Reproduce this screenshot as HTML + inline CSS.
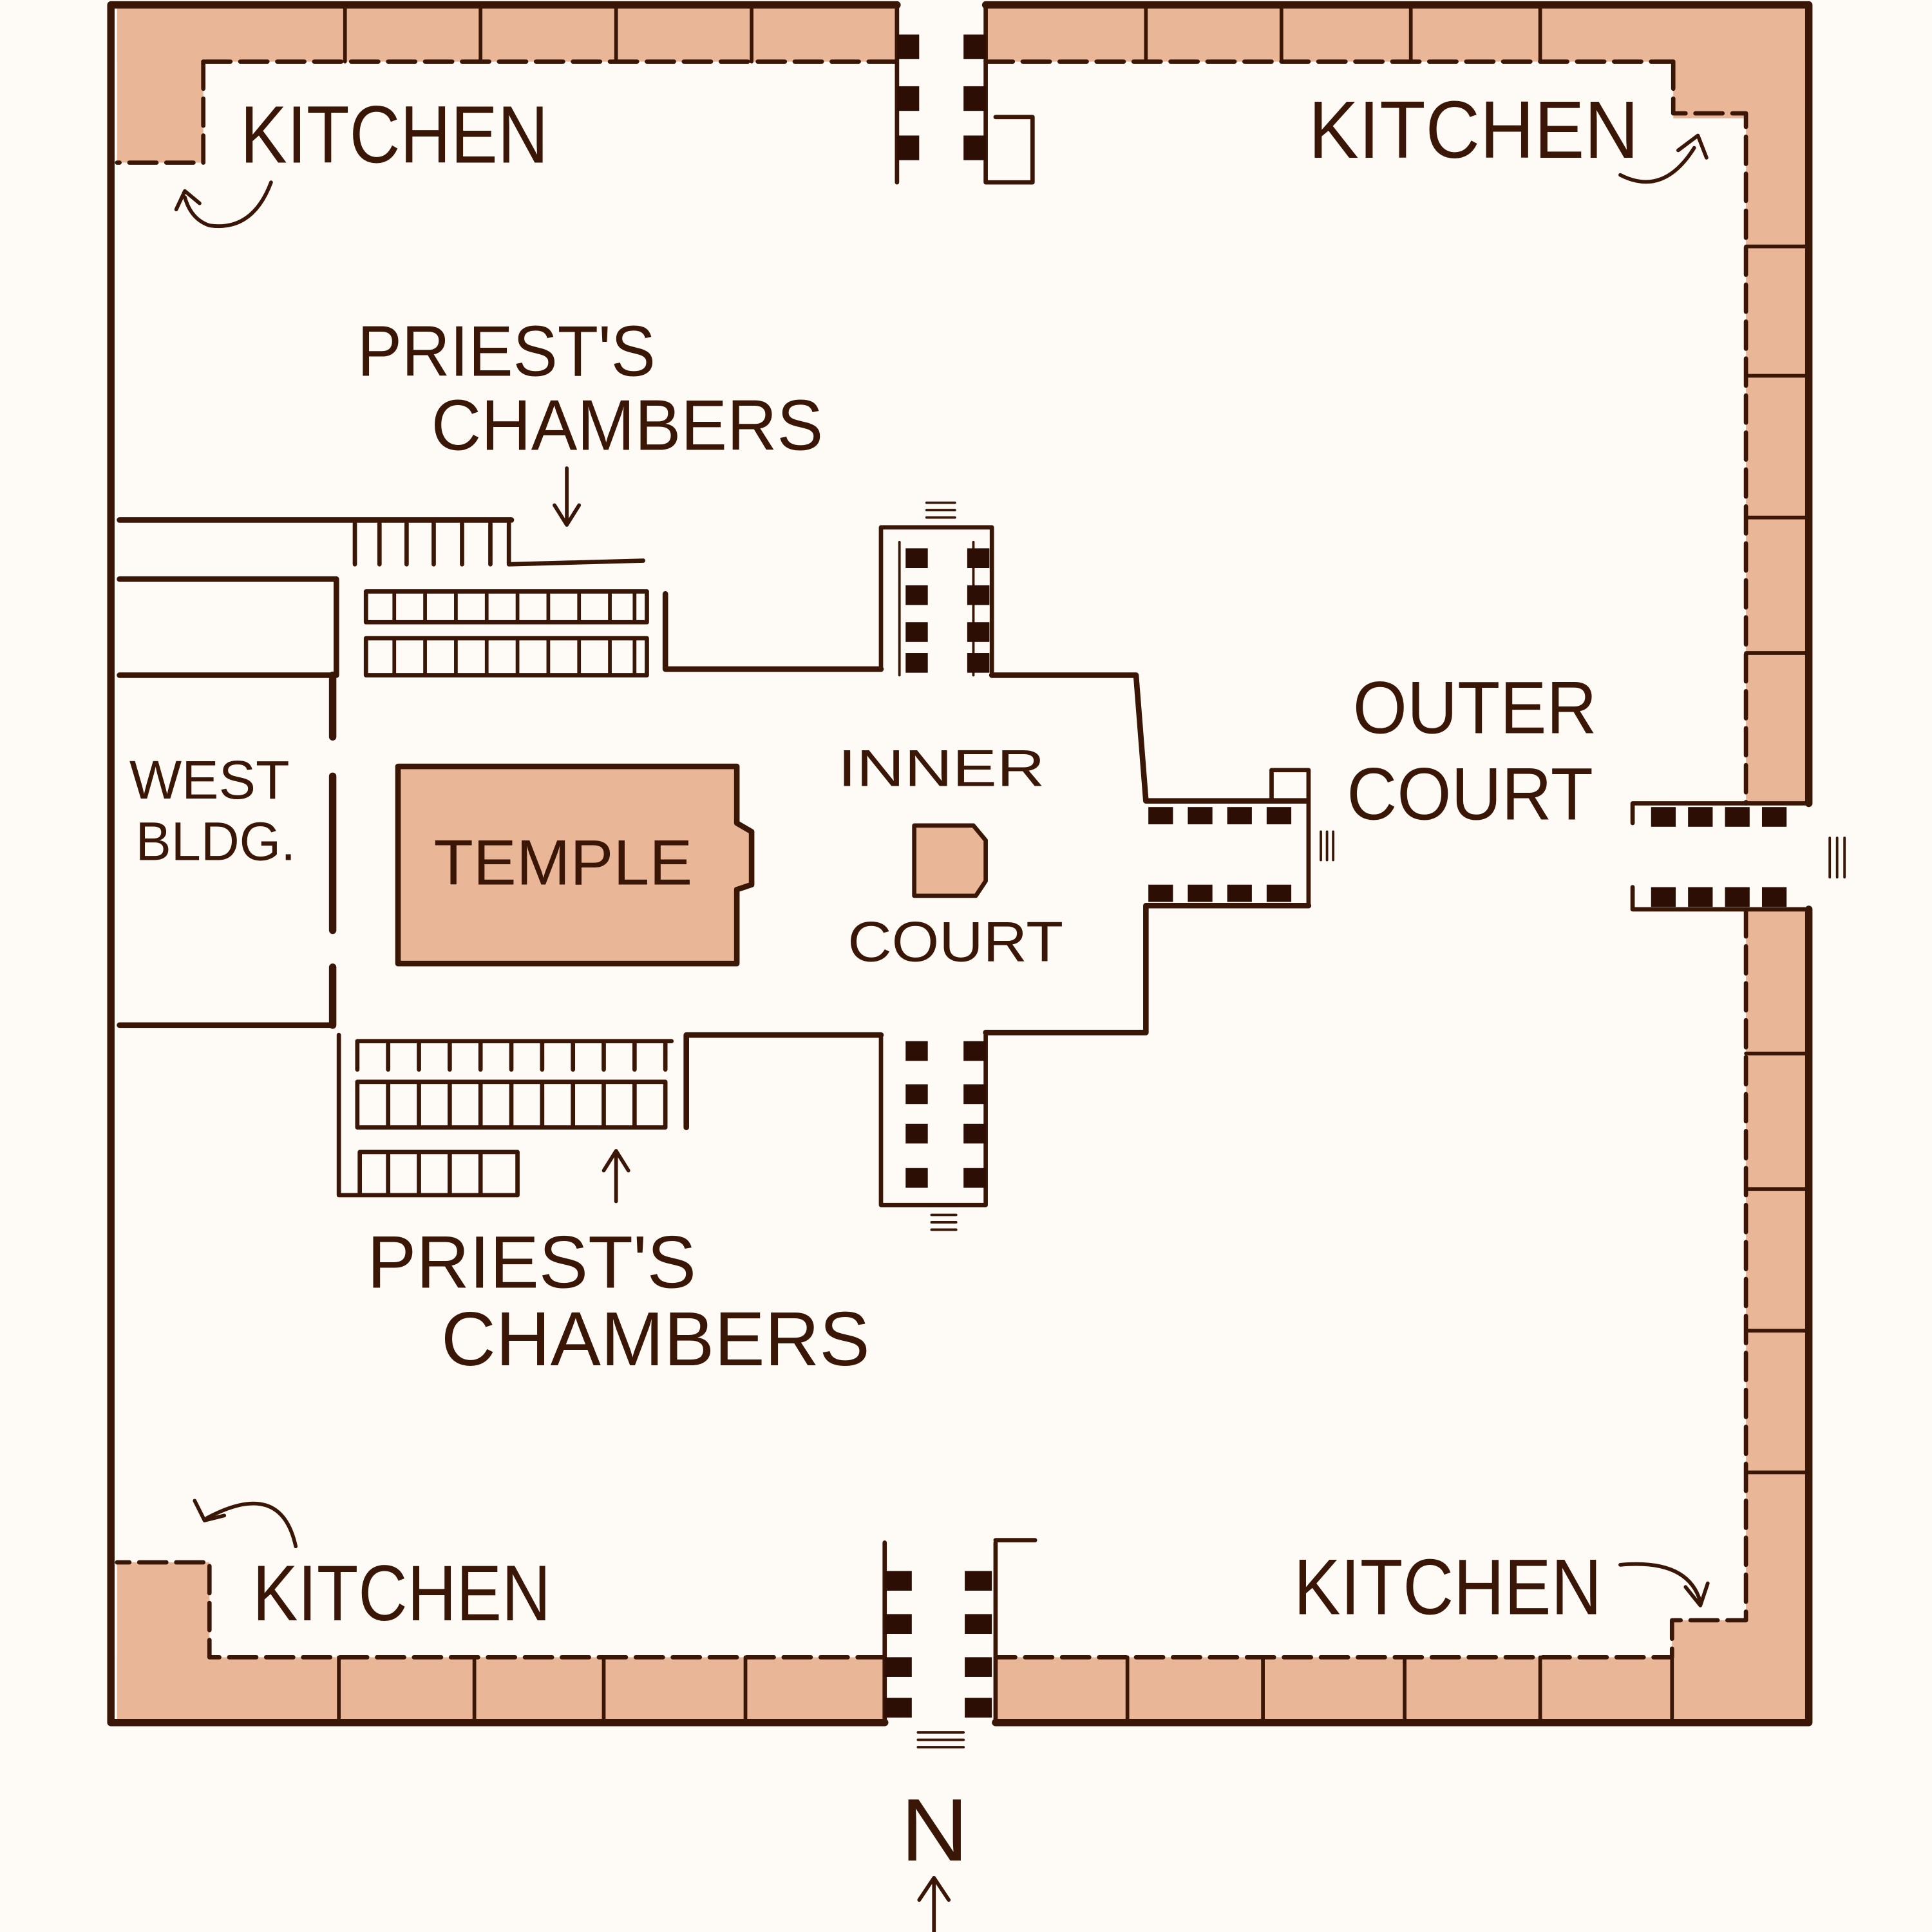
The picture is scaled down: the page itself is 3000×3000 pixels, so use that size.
<!DOCTYPE html>
<html><head><meta charset="utf-8"><style>
html,body{margin:0;padding:0;background:#fefaf6;}
svg{display:block;}
text{font-family:"Liberation Sans",sans-serif;fill:#3a1606;}
</style></head><body>
<svg width="3000" height="3000" viewBox="0 0 1568 1568" xmlns="http://www.w3.org/2000/svg">
<rect x="0" y="0" width="1568" height="1568" fill="#fefaf6"/>
<g fill="#e9b797" stroke="none">
<rect x="95" y="6" width="633" height="44"/>
<rect x="800" y="6" width="665" height="44"/>
<rect x="95" y="6" width="70" height="126"/>
<rect x="1358" y="6" width="107" height="90"/>
<rect x="1417" y="90" width="50" height="562"/>
<rect x="1417" y="738" width="50" height="580"/>
<rect x="95" y="1345" width="623" height="50"/>
<rect x="808" y="1345" width="660" height="50"/>
<rect x="95" y="1268" width="75" height="127"/>
<rect x="1357" y="1315" width="110" height="80"/>
<path d="M323 622 L598 622 L598 668 L610 675 L610 718 L598 722 L598 782 L323 782 Z"/>
<path d="M742 670 L790 670 L800 682 L800 715 L792 727 L742 727 Z"/>
</g>
<g fill="none" stroke="#3a1606" stroke-width="4.5" stroke-linecap="round" stroke-linejoin="round">
<path d="M90 1398 L90 4 L728 4 M800 4 L1468 4 L1468 652 M1468 738 L1468 1398 L808 1398 M718 1398 L90 1398" stroke-width="6"/>
<path d="M165 50 L728 50 M800 50 L1358 50" stroke-dasharray="22 8" stroke-width="3.5"/>
<path d="M165 50 L165 132 L95 132" stroke-dasharray="22 8" stroke-width="3.5"/>
<path d="M1358 50 L1358 92 L1417 92 L1417 652" stroke-dasharray="22 8" stroke-width="3.5"/>
<path d="M1417 738 L1417 1315 L1357 1315 L1357 1345 L808 1345" stroke-dasharray="22 8" stroke-width="3.5"/>
<path d="M718 1345 L170 1345 L170 1268 L95 1268" stroke-dasharray="22 8" stroke-width="3.5"/>
<path d="M280 6V50 M390 6V50 M500 6V50 M610 6V50 M930 6V50 M1040 6V50 M1145 6V50 M1250 6V50" stroke-width="3"/>
<path d="M1417 200H1467 M1417 305H1467 M1417 420H1467 M1417 530H1467 M1417 855H1467 M1417 965H1467 M1417 1080H1467 M1417 1195H1467" stroke-width="3"/>
<path d="M275 1345V1395 M385 1345V1395 M490 1345V1395 M605 1345V1395 M915 1345V1395 M1025 1345V1395 M1140 1345V1395 M1250 1345V1395 M1357 1345V1395" stroke-width="3"/>
<path d="M728 4 L728 148 M800 4 L800 148 L838 148 L838 95 L808 95" stroke-width="3.5"/>
<path d="M1325 652 L1468 652 M1325 652 L1325 668 M1325 738 L1468 738 M1325 738 L1325 720" stroke-width="3.5"/>
<path d="M718 1252 L718 1398 M808 1252 L808 1398 M808 1250 L840 1250" stroke-width="3.5"/>
<path d="M97 422 L415 422 M97 470 L273 470 L273 548 M97 548 L270 548 M97 832 L270 832" stroke-width="4.5"/>
<path d="M270 548 L270 598 M270 630 L270 755 M270 785 L270 832" stroke-width="6"/>
<path d="M288 425 L288 458 M308 425 L308 458 M330 425 L330 458 M352 425 L352 458 M375 425 L375 458 M398 425 L398 458 M413 425 L413 458 L522 455" stroke-width="3.5"/>
<path d="M297 480 L297 505 L525 505 L525 480 M297 480 L525 480" stroke-width="3.5"/>
<path d="M297 518 L297 548 L525 548 L525 518 L297 518" stroke-width="3.5"/>
<path d="M320 480V505 M345 480V505 M370 480V505 M395 480V505 M420 480V505 M445 480V505 M470 480V505 M495 480V505 M515 480V505" stroke-width="3"/>
<path d="M320 518V548 M345 518V548 M370 518V548 M395 518V548 M420 518V548 M445 518V548 M470 518V548 M495 518V548 M515 518V548" stroke-width="3"/>
<path d="M540 482 L540 543 L715 543 M805 548 L922 548 L930 650 L1060 650 M930 735 L1062 735 M930 735 L930 838 L800 838 M715 840 L557 840 L557 915" stroke-width="4.5"/>
<path d="M1032 650 L1032 625 L1062 625 L1062 735" stroke-width="3.5"/>
<path d="M715 543 L715 428 L805 428 L805 548" stroke-width="3.5"/>
<path d="M730 440 L730 548 M790 440 L790 548" stroke-width="2"/>
<path d="M715 842 L715 978 L800 978 L800 840" stroke-width="3.5"/>
<path d="M290 845 L545 845 M290 845 V868 M315 845V868 M340 845V868 M365 845V868 M390 845V868 M415 845V868 M440 845V868 M465 845V868 M490 845V868 M515 845V868 M540 845V868" stroke-width="3.5"/>
<path d="M290 878 L540 878 L540 915 M290 878 L290 915 L540 915 M315 878V915 M340 878V915 M365 878V915 M390 878V915 M415 878V915 M440 878V915 M465 878V915 M490 878V915 M515 878V915" stroke-width="3.5"/>
<path d="M275 840 L275 970 L420 970 L420 935 L292 935 L292 970 M315 935V970 M340 935V970 M365 935V970 M390 935V970" stroke-width="3.5"/>
<path d="M323 622 L598 622 L598 668 L610 675 L610 718 L598 722 L598 782 L323 782 Z" stroke-width="4.5"/>
<path d="M742 670 L790 670 L800 682 L800 715 L792 727 L742 727 Z" stroke-width="3.5"/>
<path d="M460 380 L460 425 M450 410 L460 426 L470 410" stroke-width="3"/>
<path d="M500 975 L500 935 M490 950 L500 934 L510 950" stroke-width="3"/>
<path d="M758 1568 L758 1525 M746 1542 L758 1524 L770 1542" stroke-width="3"/>
<path d="M220 148 Q205 188 170 183 Q155 178 150 160 M143 170 L150 155 L162 165" stroke-width="3"/>
<path d="M1315 142 Q1350 160 1375 120 M1362 122 L1378 110 L1385 128" stroke-width="3"/>
<path d="M240 1255 Q228 1200 168 1232 M158 1218 L166 1234 L182 1230" stroke-width="3"/>
<path d="M1315 1270 Q1370 1265 1380 1300 M1368 1288 L1380 1303 L1386 1285" stroke-width="3"/>
<path d="M752 408H775 M752 414H775 M752 420H775" stroke-width="2"/>
<path d="M756 986H776 M756 992H776 M756 998H776" stroke-width="2"/>
<path d="M745 1406H782 M745 1412H782 M745 1418H782" stroke-width="2"/>
<path d="M1072 675V698 M1077 675V698 M1082 675V698" stroke-width="2"/>
<path d="M1485 680V712 M1491 680V712 M1497 680V712" stroke-width="2"/>
</g>
<g fill="#2c0e04">
<rect x="728" y="28" width="18" height="20"/><rect x="728" y="70" width="18" height="20"/><rect x="728" y="110" width="18" height="20"/>
<rect x="782" y="28" width="18" height="20"/><rect x="782" y="70" width="18" height="20"/><rect x="782" y="110" width="18" height="20"/>
<rect x="735" y="445" width="18" height="16"/><rect x="735" y="475" width="18" height="16"/><rect x="735" y="505" width="18" height="16"/><rect x="735" y="530" width="18" height="16"/>
<rect x="785" y="445" width="18" height="16"/><rect x="785" y="475" width="18" height="16"/><rect x="785" y="505" width="18" height="16"/><rect x="785" y="530" width="18" height="16"/>
<rect x="735" y="845" width="18" height="16"/><rect x="735" y="880" width="18" height="16"/><rect x="735" y="912" width="18" height="16"/><rect x="735" y="948" width="18" height="16"/>
<rect x="782" y="845" width="18" height="16"/><rect x="782" y="880" width="18" height="16"/><rect x="782" y="912" width="18" height="16"/><rect x="782" y="948" width="18" height="16"/>
<rect x="932" y="655" width="20" height="14"/><rect x="964" y="655" width="20" height="14"/><rect x="996" y="655" width="20" height="14"/><rect x="1028" y="655" width="20" height="14"/>
<rect x="932" y="718" width="20" height="14"/><rect x="964" y="718" width="20" height="14"/><rect x="996" y="718" width="20" height="14"/><rect x="1028" y="718" width="20" height="14"/>
<rect x="1340" y="655" width="20" height="16"/><rect x="1370" y="655" width="20" height="16"/><rect x="1400" y="655" width="20" height="16"/><rect x="1430" y="655" width="20" height="16"/>
<rect x="1340" y="720" width="20" height="16"/><rect x="1370" y="720" width="20" height="16"/><rect x="1400" y="720" width="20" height="16"/><rect x="1430" y="720" width="20" height="16"/>
<rect x="718" y="1275" width="22" height="16"/><rect x="718" y="1310" width="22" height="16"/><rect x="718" y="1345" width="22" height="16"/><rect x="718" y="1378" width="22" height="16"/>
<rect x="783" y="1275" width="22" height="16"/><rect x="783" y="1310" width="22" height="16"/><rect x="783" y="1345" width="22" height="16"/><rect x="783" y="1378" width="22" height="16"/>
</g>
<g>
<text x="195" y="132" font-size="66" textLength="250" lengthAdjust="spacingAndGlyphs">KITCHEN</text>
<text x="1062" y="128" font-size="66" textLength="268" lengthAdjust="spacingAndGlyphs">KITCHEN</text>
<text x="290" y="305" font-size="58" textLength="242" lengthAdjust="spacingAndGlyphs">PRIEST'S</text>
<text x="350" y="365" font-size="58" textLength="318" lengthAdjust="spacingAndGlyphs">CHAMBERS</text>
<text x="105" y="648" font-size="44" textLength="130" lengthAdjust="spacingAndGlyphs">WEST</text>
<text x="110" y="698" font-size="44" textLength="130" lengthAdjust="spacingAndGlyphs">BLDG.</text>
<text x="352" y="718" font-size="52" textLength="210" lengthAdjust="spacingAndGlyphs">TEMPLE</text>
<text x="680" y="638" font-size="42" textLength="168" lengthAdjust="spacingAndGlyphs">INNER</text>
<text x="688" y="780" font-size="46" textLength="175" lengthAdjust="spacingAndGlyphs">COURT</text>
<text x="1098" y="595" font-size="60" textLength="198" lengthAdjust="spacingAndGlyphs">OUTER</text>
<text x="1093" y="665" font-size="60" textLength="200" lengthAdjust="spacingAndGlyphs">COURT</text>
<text x="298" y="1045" font-size="60" textLength="267" lengthAdjust="spacingAndGlyphs">PRIEST'S</text>
<text x="358" y="1108" font-size="62" textLength="348" lengthAdjust="spacingAndGlyphs">CHAMBERS</text>
<text x="205" y="1315" font-size="64" textLength="242" lengthAdjust="spacingAndGlyphs">KITCHEN</text>
<text x="1050" y="1310" font-size="64" textLength="250" lengthAdjust="spacingAndGlyphs">KITCHEN</text>
<text x="731" y="1510" font-size="72" textLength="55" lengthAdjust="spacingAndGlyphs">N</text>
</g>
</svg>
</body></html>
